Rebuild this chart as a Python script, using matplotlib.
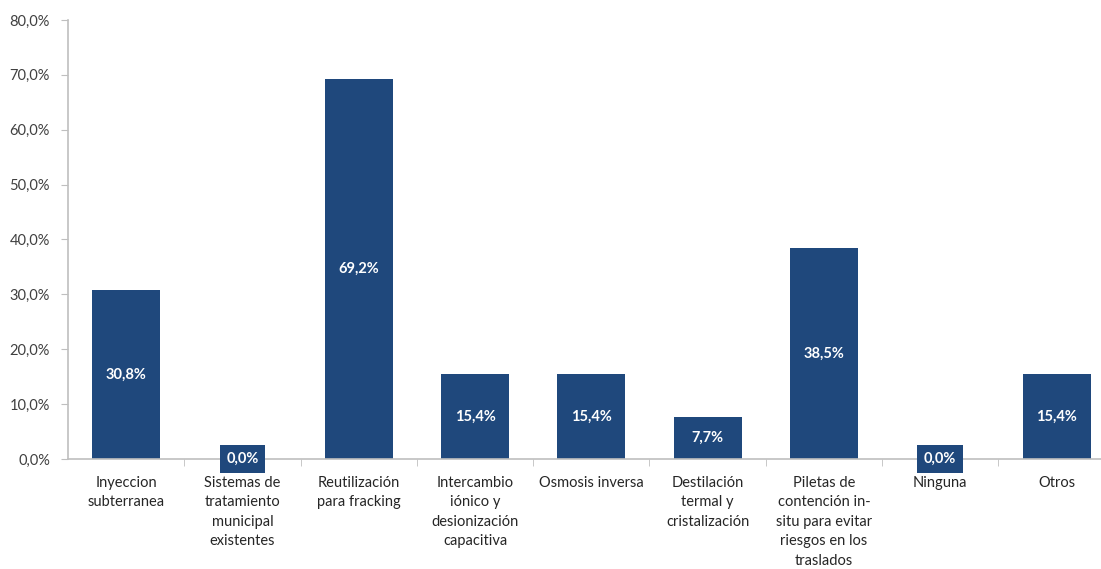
import numpy as np
import matplotlib.pyplot as plt
from matplotlib.ticker import FuncFormatter, FixedLocator

plt.rcParams['font.family'] = ['Lato', 'DejaVu Sans']

categorias = [
    'Inyeccion\nsubterranea',
    'Sistemas de\ntratamiento\nmunicipal\nexistentes',
    'Reutilización\npara fracking',
    'Intercambio\niónico y\ndesionización\ncapacitiva',
    'Osmosis inversa',
    'Destilación\ntermal y\ncristalización',
    'Piletas de\ncontención in-\nsitu para evitar\nriesgos en los\ntraslados',
    'Ninguna',
    'Otros',
]
porcentajes = [30.8, 0.0, 69.2, 15.4, 15.4, 7.7, 38.5, 0.0, 15.4]

azul = '#1F487C'
gris_eje = '#BFBFBF'
gris_texto = '#404040'

fig = plt.figure(figsize=(11.01, 5.69), dpi=100)
ax = fig.add_axes([68 / 1101, 110 / 569, 9 * 116.3 / 1101, 439 / 569])

x = np.arange(len(categorias))
ax.bar(x, porcentajes, width=0.585, color=azul, zorder=2)

def fmt_pct(v):
    return f'{v:.1f}%'.replace('.', ',')

# etiquetas de datos: centradas en la barra, o en un recuadro si el valor es cero
for xi, v in zip(x, porcentajes):
    if v > 0:
        ax.text(xi, v / 2, fmt_pct(v), ha='center', va='center', color='white',
                fontsize=10.5, fontweight='bold', zorder=3)
    else:
        ax.text(xi, v, fmt_pct(v), ha='center', va='center', color='white',
                fontsize=10.5, fontweight='bold', zorder=3,
                bbox=dict(boxstyle='square,pad=0.45', facecolor=azul, edgecolor='none'))

ax.set_xlim(-0.5, len(categorias) - 0.5)
ax.set_ylim(0, 80)
ax.yaxis.set_major_locator(FixedLocator(np.arange(0, 81, 10)))
ax.yaxis.set_major_formatter(FuncFormatter(lambda v, p: fmt_pct(v)))

ax.set_xticks(x)
ax.set_xticklabels(categorias, fontsize=10.5, color='#262626', linespacing=1.5, va='top')
ax.xaxis.set_minor_locator(FixedLocator(np.arange(0.5, len(categorias) - 0.5, 1)))
ax.tick_params(axis='x', which='major', length=0, pad=12)
ax.tick_params(axis='x', which='minor', length=5, color=gris_eje, direction='out')
ax.tick_params(axis='y', length=5, color=gris_eje, labelsize=10.5,
               labelcolor=gris_texto, pad=8)

for lado in ['top', 'right']:
    ax.spines[lado].set_visible(False)
for lado in ['left', 'bottom']:
    ax.spines[lado].set_color(gris_eje)
    ax.spines[lado].set_linewidth(1.2)

fig.savefig('out.png', dpi=100)
